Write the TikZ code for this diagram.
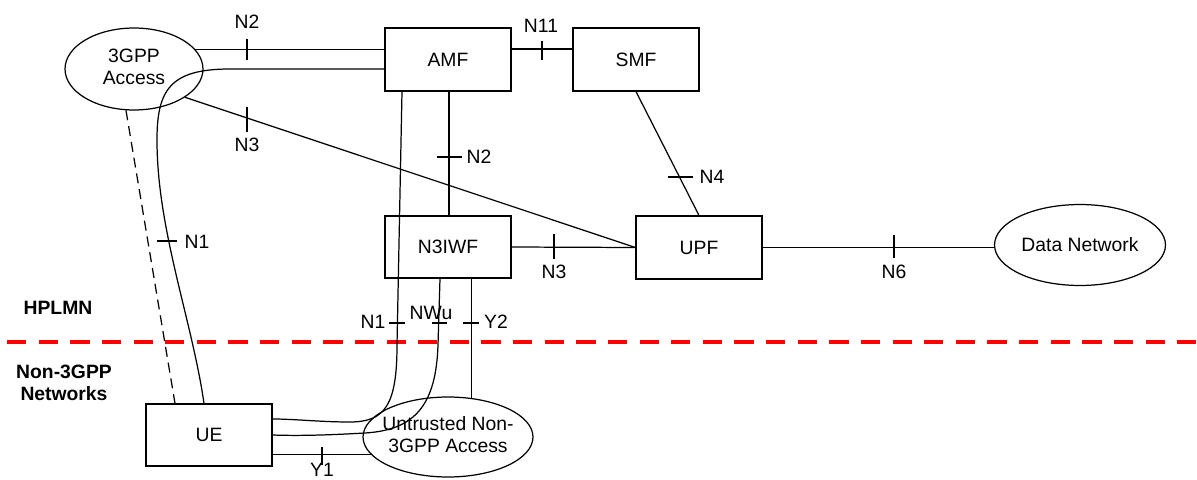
\documentclass[tikz,border=0pt]{standalone}
\usepackage{fontspec}
\setmainfont{Liberation Sans}
\usetikzlibrary{shapes.geometric,calc}
\begin{document}
\begin{tikzpicture}[x=0.02cm,y=-0.02cm,
  font=\fontsize{11}{12.5}\selectfont,
  box/.style={draw,line width=0.7pt,minimum width=2.52cm,minimum height=1.26cm,inner sep=0pt},
  oval/.style={draw,ellipse,line width=0.7pt,inner sep=0pt},
  link/.style={line width=0.7pt},
  tickmark/.style={line width=0.7pt},
  lbl/.style={inner sep=0pt},
  zone/.style={font=\fontsize{11}{12.5}\selectfont\bfseries,align=center,inner sep=0pt},
  border/.style={red,line width=1.8pt,dash pattern=on 11pt off 7pt},
  wireless/.style={line width=0.7pt,dash pattern=on 5.7pt off 3.4pt}]
\useasboundingbox (0,0) rectangle (1197,480);

% nodes
\node[oval,minimum width=2.76cm,minimum height=1.64cm] (G3) at (134,69)
  {\makebox[0pt]{\begin{tabular}{@{}c@{}}3GPP\\Access\end{tabular}}};
\node[box] (AMF) at (448,59.5) {AMF};
\node[box] (SMF) at (636,59.5) {SMF};
\node[box,minimum height=1.24cm] (N3IWF) at (448,247) {N3IWF};
\node[box] (UPF) at (699,247.5) {UPF};
\node[oval,minimum width=3.42cm,minimum height=1.62cm] (DN) at (1080,245)
  {\makebox[0pt]{Data Network}};
\node[box,minimum height=1.24cm] (UE) at (209,435) {UE};
\node[oval,minimum width=3.4cm,minimum height=1.6cm] (UT) at (448,437)
  {\makebox[0pt]{\begin{tabular}{@{}c@{}}Untrusted Non-\\3GPP Access\end{tabular}}};

% zone labels and border
\node[zone] (hplmn) at (58,308) {HPLMN};
\node[zone] (non3gpp) at (64,383) {Non-3GPP\\Networks};
\coordinate (bL) at (7,342);
\coordinate (bR) at (1197,342);
\draw[border] (bL) -- (bR);

% connectors
\draw[link] (G3.18) -- (G3.18 -| AMF.west);
\draw[link] (G3.-29) -- (UPF.west);
\draw[wireless] (G3.-101) -- ($(UE.north)+(-34,0)$);
\draw[link] ($(AMF.east)+(0,-10.5)$) -- ($(SMF.west)+(0,-10.5)$);
\draw[link] ($(AMF.south)+(1,0)$) -- ($(N3IWF.north)+(1,0)$);
\draw[link] (SMF.south) -- (UPF.north);
\draw[link] (N3IWF.east) -- (UPF.west);
\draw[link] (UPF.east) -- (UPF.east -| DN.west);
\draw[link] ($(AMF.west)+(0,9.5)$) -- (230,69) .. controls (170,69) and (157,90) .. (157,140)
  .. controls (157,230) and (192,320) .. ($(UE.north)+(-5,0)$);
\draw[link] ($(AMF.south)+(-46,0)$) -- (397,345) .. controls (397,405) and (385,422) .. (350,422)
  .. controls (320,422) and (295,419) .. ($(UE.east)+(0,-16)$);
\draw[link] ($(N3IWF.south)+(-8,0)$) -- (438,345) .. controls (436,405) and (415,430) .. (365,433)
  .. controls (330,435) and (300,436) .. (UE.east);
\draw[link] (N3IWF.south -| UT.59) -- (UT.59);
\draw[link] (UT.193 -| UE.east) -- (UT.193);

% ticks
\draw[tickmark] (247,39) -- (247,60);
\draw[tickmark] (247,107) -- (247,132);
\draw[tickmark] (542,41) -- (542,60);
\draw[tickmark] (437,157) -- (462,157);
\draw[tickmark] (668,177) -- (693,177);
\draw[tickmark] (554,234) -- (554,259);
\draw[tickmark] (894,235) -- (894,258);
\draw[tickmark] (157,241) -- (177,241);
\draw[tickmark] (389,323) -- (405,323);
\draw[tickmark] (432,323) -- (447,323);
\draw[tickmark] (463,323) -- (479,323);
\draw[tickmark] (322,447) -- (322,465);

% labels
\node[lbl] (lN2a) at (247,22) {N2};
\node[lbl] (lN3a) at (247,145) {N3};
\node[lbl] (lN11) at (541,26) {N11};
\node[lbl] (lN2b) at (479,157) {N2};
\node[lbl] (lN4) at (712,177) {N4};
\node[lbl] (lN3b) at (554,272) {N3};
\node[lbl] (lN6) at (894,272) {N6};
\node[lbl] (lN1a) at (197,242) {N1};
\node[lbl] (lN1b) at (373,322) {N1};
\node[lbl] (lNWu) at (431,313) {NWu};
\node[lbl] (lY2) at (496,322) {Y2};
\node[lbl] (lY1) at (322,470) {Y1};
\end{tikzpicture}
\end{document}
